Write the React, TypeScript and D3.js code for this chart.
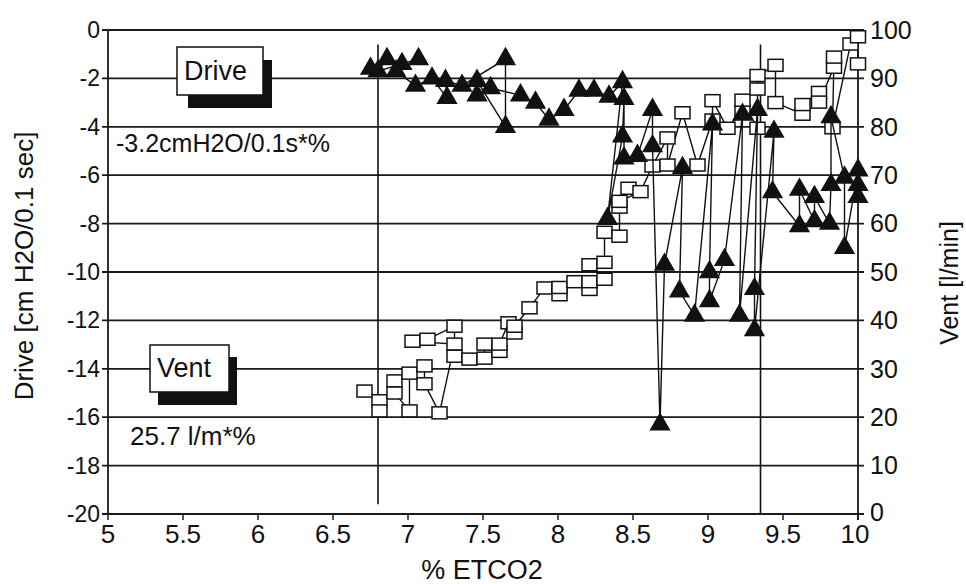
import React from "react";
import * as d3 from "d3";

// axis ticks
const xTicks = [5, 5.5, 6, 6.5, 7, 7.5, 8, 8.5, 9, 9.5, 10];
const driveTicks = [0, -2, -4, -6, -8, -10, -12, -14, -16, -18, -20];
const ventTicks = [0, 10, 20, 30, 40, 50, 60, 70, 80, 90, 100];
const thresholds = [6.8, 9.35];

// Drive (triangles, left axis) in recording order
const driveEtco2 = [
  6.75, 6.86, 6.8, 6.96, 7.07, 6.92, 7.05, 7.16, 7.26, 7.25, 7.36, 7.65, 7.65, 7.46, 7.46,
  7.55, 7.75, 7.85, 7.94, 8.04, 8.14, 8.24, 8.34, 8.43, 8.33, 8.43, 8.44, 8.44, 8.53, 8.63,
  8.63, 8.68, 8.71, 8.83, 8.81, 8.91, 9.03, 9.01, 9.01, 9.11, 9.23, 9.21, 9.33, 9.31, 9.31,
  9.44, 9.43, 9.61, 9.61, 9.71, 9.71, 9.81, 9.82, 9.82, 9.91, 9.91, 10.0, 10.0, 10.0,
];
const driveValues = [
  -1.6, -1.2, -1.7, -1.4, -1.2, -1.7, -2.3, -2.0, -2.8, -2.1, -2.3, -1.2, -4.0, -2.1, -2.7,
  -2.4, -2.7, -3.0, -3.7, -3.3, -2.5, -2.5, -2.75, -2.15, -7.8, -4.4, -2.85, -5.3, -5.2, -3.3,
  -4.8, -16.3, -9.7, -5.7, -10.8, -11.8, -3.9, -10.0, -11.2, -9.5, -3.5, -11.8, -3.3, -10.7, -12.4,
  -4.2, -6.7, -8.1, -6.6, -7.9, -6.9, -8.0, -6.4, -3.6, -6.1, -9.0, -5.8, -6.4, -6.9,
];

// Vent (squares, right axis) in recording order
const ventEtco2 = [
  6.71, 6.81, 6.81, 6.91, 6.91, 7.01, 7.01, 7.11, 7.11, 7.21, 7.31, 7.03, 7.13, 7.31, 7.31,
  7.41, 7.51, 7.51, 7.61, 7.61, 7.67, 7.71, 7.71, 7.81, 7.91, 8.01, 8.01, 8.11, 8.21, 8.21,
  8.31, 8.21, 8.31, 8.31, 8.41, 8.41, 8.47, 8.41, 8.55, 8.63, 8.73, 8.73, 8.83, 8.93, 9.03,
  9.03, 9.13, 9.23, 9.23, 9.33, 9.33, 9.33, 9.45, 9.45, 9.63, 9.63, 9.74, 9.74, 9.84, 9.84,
  9.83, 9.95, 10.0, 10.0,
];
const ventValues = [
  25.4, 23.4, 21.3, 27.5, 25.0, 21.3, 29.1, 30.6, 26.9, 20.9, 35.1, 35.7, 36.1, 38.8, 32.6,
  32.0, 32.2, 35.1, 33.6, 35.1, 39.5, 37.4, 38.8, 42.6, 46.7, 45.3, 46.8, 48.0, 46.4, 48.0,
  48.5, 51.5, 52.0, 58.2, 57.4, 63.4, 67.3, 64.6, 66.6, 71.9, 77.7, 72.1, 82.9, 72.1, 81.4,
  85.4, 79.7, 83.2, 85.5, 79.7, 87.8, 90.6, 92.7, 85.0, 82.6, 84.6, 87.1, 85.1, 92.3, 94.4,
  79.8, 97.1, 98.6, 93.0,
];

const legendNames = ["Drive", "Vent"];
const slopeLabels = ["-3.2cmH2O/0.1s*%", "25.7 l/m*%"];

const font = "'Liberation Sans', Arial, Helvetica, sans-serif";

export default function App() {
  const width = 966;
  const height = 584;
  const x = d3.scaleLinear().domain([5, 10]).range([108, 858]);
  const yDrive = d3.scaleLinear().domain([-20, 0]).range([514, 30]);
  const yVent = d3.scaleLinear().domain([0, 100]).range([514, 30]);

  const drivePts: [number, number][] = driveEtco2.map((e, i) => [e, driveValues[i]]);
  const ventPts: [number, number][] = ventEtco2.map((e, i) => [e, ventValues[i]]);

  const driveLine = d3
    .line<[number, number]>()
    .x((d) => x(d[0]))
    .y((d) => yDrive(d[1]));
  const ventLine = d3
    .line<[number, number]>()
    .x((d) => x(d[0]))
    .y((d) => yVent(d[1]));
  const tri = d3.symbol().type(d3.symbolTriangle).size(195)() as string;

  const [x0, x1] = x.range();
  const yTop = yDrive(0);
  const yBot = yDrive(-20);

  return (
    <svg
      width={width}
      height={height}
      style={{ position: "absolute", left: 0, top: 0, background: "#fff" }}
      fontFamily={font}
    >
      {/* gridlines, ticks both sides */}
      {driveTicks.map((t) => (
        <line
          key={"g" + t}
          x1={x0 - 6}
          x2={x1 + 6}
          y1={yDrive(t)}
          y2={yDrive(t)}
          stroke="#1a1a1a"
          strokeWidth={1.8}
        />
      ))}
      <line x1={x0} x2={x0} y1={yTop} y2={yBot} stroke="#1a1a1a" strokeWidth={1.8} />
      <line x1={x1} x2={x1} y1={yTop} y2={yBot + 6} stroke="#1a1a1a" strokeWidth={1.8} />
      {xTicks.map((t) => (
        <line key={"xt" + t} x1={x(t)} x2={x(t)} y1={yBot} y2={yBot + 6} stroke="#1a1a1a" strokeWidth={1.5} />
      ))}

      {/* threshold markers */}
      <line x1={x(thresholds[0])} x2={x(thresholds[0])} y1={yDrive(-0.6)} y2={yDrive(-19.6)} stroke="#111" strokeWidth={1.6} />
      <line x1={x(thresholds[1])} x2={x(thresholds[1])} y1={yDrive(-0.6)} y2={yBot} stroke="#111" strokeWidth={1.6} />

      {/* left tick labels */}
      {driveTicks.map((t) => (
        <text key={"dl" + t} x={x0 - 8} y={yDrive(t)} dy="0.35em" textAnchor="end" fontSize={23} fill="#111">
          {String(t)}
        </text>
      ))}
      {/* right tick labels */}
      {ventTicks.map((t) => (
        <text key={"vl" + t} x={x1 + 12} y={yVent(t) - (t === 0 ? 2 : 0)} dy="0.35em" textAnchor="start" fontSize={25} fill="#111">
          {String(t)}
        </text>
      ))}
      {/* bottom tick labels */}
      {xTicks.map((t) => (
        <text key={"xl" + t} x={x(t) - (t === 10 ? 3 : 0)} y={yBot + 29} textAnchor="middle" fontSize={26} fill="#111">
          {String(t)}
        </text>
      ))}

      {/* axis titles */}
      <text x={482} y={579} textAnchor="middle" fontSize={27} fill="#111">
        % ETCO2
      </text>
      <text transform="translate(33,266) rotate(-90)" textAnchor="middle" fontSize={26} fill="#111">
        Drive [cm H2O/0.1 sec]
      </text>
      <text transform="translate(958,283) rotate(-90)" textAnchor="middle" fontSize={25} fill="#111">
        Vent [l/min]
      </text>

      {/* Vent series */}
      <path d={ventLine(ventPts) ?? ""} fill="none" stroke="#111" strokeWidth={1.4} />
      {ventPts.map((d, i) => (
        <rect
          key={"v" + i}
          x={x(d[0]) - 7.5}
          y={yVent(d[1]) - 6}
          width={15}
          height={12}
          fill="#fff"
          stroke="#111"
          strokeWidth={1.5}
        />
      ))}

      {/* Drive series */}
      <path d={driveLine(drivePts) ?? ""} fill="none" stroke="#111" strokeWidth={1.4} />
      {drivePts.map((d, i) => (
        <path key={"d" + i} d={tri} transform={`translate(${x(d[0])},${yDrive(d[1])})`} fill="#111" />
      ))}

      {/* legend boxes */}
      <rect x={188} y={60} width={84} height={48} fill="#111" />
      <rect x={177} y={47} width={86} height={48} fill="#fff" stroke="#111" strokeWidth={1.5} />
      <text x={184} y={80} fontSize={27} fill="#111">
        {legendNames[0]}
      </text>
      <rect x={158} y={357} width={79} height={48} fill="#111" />
      <rect x={150} y={345} width={79} height={47} fill="#fff" stroke="#111" strokeWidth={1.5} />
      <text x={157} y={377} fontSize={27} fill="#111">
        {legendNames[1]}
      </text>

      {/* slope annotations */}
      <text x={116} y={152} fontSize={25} fill="#111">
        {slopeLabels[0]}
      </text>
      <text x={130} y={445} fontSize={26} fill="#111">
        {slopeLabels[1]}
      </text>
    </svg>
  );
}
